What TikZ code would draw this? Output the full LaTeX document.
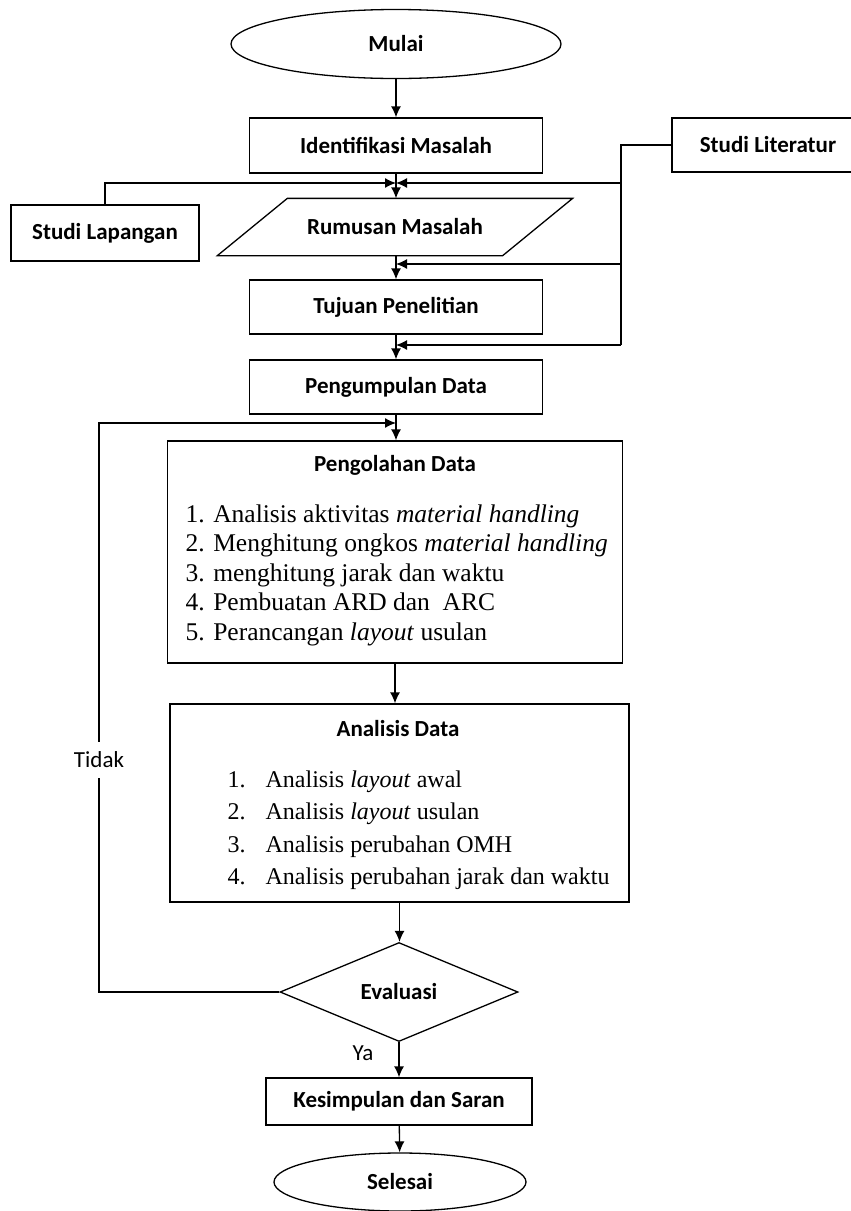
\documentclass[tikz,border=0pt]{standalone}
\usepackage{fontspec}
\setmainfont{Liberation Serif}
\setsansfont{Carlito}
\usetikzlibrary{shapes.geometric,arrows.meta}

\begin{document}
\begin{tikzpicture}[x=1pt,y=-1pt,line width=1.3pt,>={Latex[length=11pt,width=10pt]},
  font=\sffamily\bfseries\fontsize{23}{28}\selectfont,
  proc/.style={draw,rectangle,inner sep=0pt},
  term/.style={draw,ellipse,inner sep=0pt},
  lst/.style={font=\rmfamily\mdseries\fontsize{25.5}{29.5}\selectfont,align=left,anchor=north west,inner sep=0pt},
  lbl/.style={font=\sffamily\mdseries\fontsize{23}{28}\selectfont}]
\useasboundingbox (0,0) rectangle (851,1211);

% Start and problem
\node[term,minimum width=330,minimum height=69] (mulai) at (396,44) {Mulai};
\node[proc,minimum width=293,minimum height=55] (ident) at (396,145.5) {Identifikasi Masalah};
\node[rectangle,minimum width=284,minimum height=56,inner sep=0pt] (rumusan) at (395,227) {Rumusan Masalah};
\draw ([xshift=-35pt]rumusan.south west) -- ([xshift=35pt]rumusan.north west) -- ([xshift=35pt]rumusan.north east) -- ([xshift=-35pt]rumusan.south east) -- cycle;
\node[proc,minimum width=293,minimum height=54] (tujuan) at (396,307) {Tujuan Penelitian};
\node[proc,minimum width=293,minimum height=54] (kumpul) at (396,387) {Pengumpulan Data};

% Side sources
\node[proc,minimum width=188,minimum height=56] (lapangan) at (105,233) {Studi Lapangan};
\node[proc,minimum width=192,minimum height=54] (literatur) at (768,145) {Studi Literatur};

% Processing
\node[proc,minimum width=455,minimum height=222] (olah) at (395,552) {};
\node (olahjudul) at (395,465) {Pengolahan Data};
\node[lst] (olahisi) at (185,504) {1. Analisis aktivitas \textit{material handling}\\2. Menghitung ongkos \textit{material handling}\\3. menghitung jarak dan waktu\\4. Pembuatan ARD dan\ \ ARC\\5. Perancangan \textit{layout} usulan};

% Analysis
\node[proc,minimum width=459,minimum height=198] (analisis) at (399.5,803) {};
\node (analisisjudul) at (398,729) {Analisis Data};
\node[lst,font=\rmfamily\mdseries\fontsize{24}{32.5}\selectfont] (analisisisi) at (227,770) {\makebox[38pt][l]{1.}Analisis \textit{layout} awal\\\makebox[38pt][l]{2.}Analisis \textit{layout} usulan\\\makebox[38pt][l]{3.}Analisis perubahan OMH\\\makebox[38pt][l]{4.}Analisis perubahan jarak dan waktu};

% Decision and end
\node[draw,diamond,minimum width=238,minimum height=99,inner sep=0pt] (evaluasi) at (399,992) {Evaluasi};
\node[proc,minimum width=266,minimum height=47] (kesimpulan) at (399,1101.5) {Kesimpulan dan Saran};
\node[term,minimum width=252,minimum height=58] (selesai) at (400,1182) {Selesai};

% Junctions
\coordinate (j1) at (396,183);
\coordinate (j2) at (396,264);
\coordinate (j3) at (396,345);
\coordinate (j4) at (396,423);
\coordinate (bus) at (621,345);
\coordinate (balik) at (99,423);

% Main flow
\draw[->] (mulai) -- (ident);
\draw[->] (ident.south) -- (ident.south |- rumusan.north);
\draw[->] (tujuan.north |- rumusan.south) -- (tujuan.north);
\draw[->] (tujuan) -- (kumpul);
\draw[->] (kumpul.south) -- (kumpul.south |- olah.north);
\draw[->] (olah.south) -- (olah.south |- analisis.north);
\draw[->] (analisis.south) -- (analisis.south |- evaluasi.north);
\draw[->] (evaluasi.south) -- (evaluasi.south |- kesimpulan.north) node[lbl,pos=0.3,anchor=east,inner sep=0pt,xshift=-25pt] {Ya};
\draw[->] (kesimpulan) -- (selesai);

% Literature and field inputs
\draw[->] (lapangan.north) |- (j1);
\draw (literatur.west) -| (bus);
\draw[->] (bus |- j1) -- (j1);
\draw[->] (bus |- j2) -- (j2);
\draw[->] (bus) -- (j3);

% Loop back
\draw[->] (evaluasi.west) -| (balik) node[lbl,pos=0.704,fill=white,inner sep=10pt] {Tidak} -- (j4);
\end{tikzpicture}
\end{document}
